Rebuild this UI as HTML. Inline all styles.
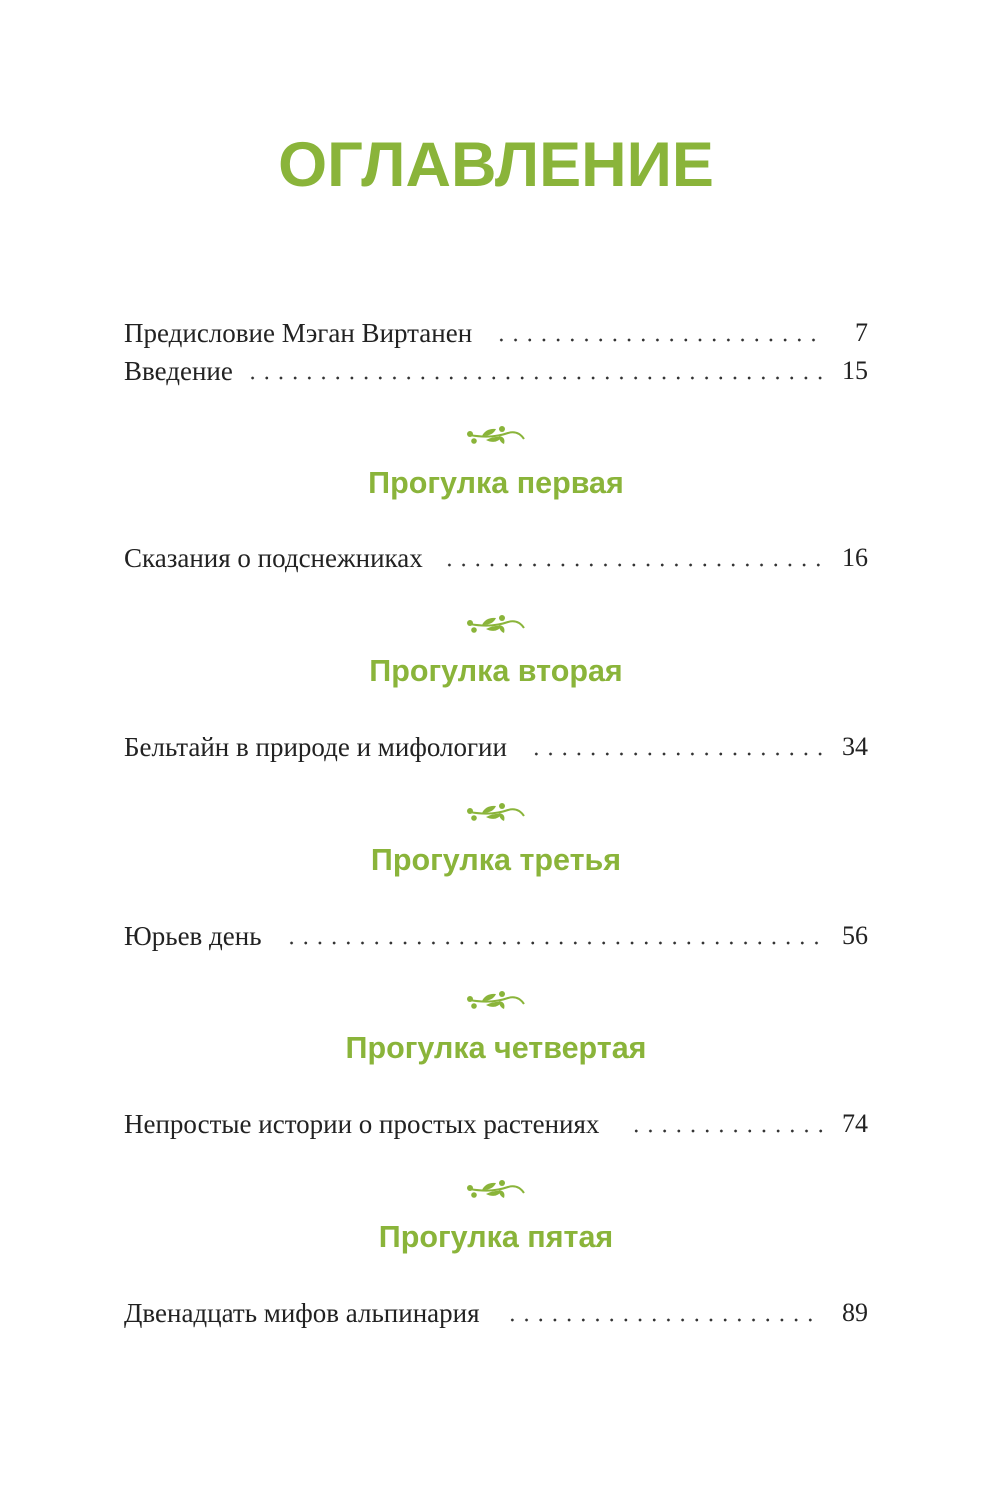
<!DOCTYPE html>
<html><head><meta charset="utf-8"><style>
body{margin:0;background:#fff;}
#p{position:relative;width:1000px;height:1500px;overflow:hidden;background:#fff;}
.t{position:absolute;left:-4px;width:1000px;text-align:center;top:125px;font:bold 63px "Liberation Sans","DejaVu Sans",sans-serif;color:#8ab43a;line-height:80px;}
.r{position:absolute;left:124px;font:27px "Liberation Serif","DejaVu Serif",serif;color:#222;line-height:30px;white-space:nowrap;}
.n{position:absolute;right:132px;font:26px "Liberation Serif",serif;color:#222;line-height:30px;}
.d{position:absolute;height:4px;background-image:radial-gradient(circle,#333 1.2px,transparent 1.6px);background-size:14.2px 4px;background-position:right 0;background-repeat:repeat-x;}
.h{position:absolute;left:-4px;width:1000px;text-align:center;font:bold 30.5px "Liberation Sans",sans-serif;color:#8ab43a;line-height:36px;}
.l{position:absolute;left:466px;}
</style></head><body><div id="p">
<div class="t">ОГЛАВЛЕНИЕ</div>

<div class="r" style="top:318px">Предисловие Мэган Виртанен</div><div class="d" style="top:338px;left:494px;width:326.6px"></div><div class="n" style="top:318px">7</div>
<div class="r" style="top:356px">Введение</div><div class="d" style="top:376px;left:245px;width:582.2px"></div><div class="n" style="top:356px">15</div>

<svg class="l" style="top:425px" width="60" height="24" viewBox="0 0 60 24"><g fill="#8ab43a"><path d="M4 10 Q25 14 42 8 Q52 5 58 14" stroke="#8ab43a" stroke-width="2" fill="none"/><circle cx="4" cy="9" r="3"/><circle cx="8" cy="16" r="2.8"/><circle cx="36" cy="4" r="3"/><path d="M16 11 Q20 3 30 4 Q27 11 16 11Z"/><path d="M20 15 Q28 11 36 12 Q30 20 20 15Z"/><path d="M33 11 Q40 12 38 19 Q33 17 33 11Z"/></g></svg>
<div class="h" style="top:465px">Прогулка первая</div>
<div class="r" style="top:543px">Сказания о подснежниках</div><div class="d" style="top:563px;left:442px;width:383.4px"></div><div class="n" style="top:543px">16</div>

<svg class="l" style="top:614px" width="60" height="24" viewBox="0 0 60 24"><g fill="#8ab43a"><path d="M4 10 Q25 14 42 8 Q52 5 58 14" stroke="#8ab43a" stroke-width="2" fill="none"/><circle cx="4" cy="9" r="3"/><circle cx="8" cy="16" r="2.8"/><circle cx="36" cy="4" r="3"/><path d="M16 11 Q20 3 30 4 Q27 11 16 11Z"/><path d="M20 15 Q28 11 36 12 Q30 20 20 15Z"/><path d="M33 11 Q40 12 38 19 Q33 17 33 11Z"/></g></svg>
<div class="h" style="top:653px">Прогулка вторая</div>
<div class="r" style="top:732px">Бельтайн в природе и мифологии</div><div class="d" style="top:752px;left:529px;width:298.2px"></div><div class="n" style="top:732px">34</div>

<svg class="l" style="top:802px" width="60" height="24" viewBox="0 0 60 24"><g fill="#8ab43a"><path d="M4 10 Q25 14 42 8 Q52 5 58 14" stroke="#8ab43a" stroke-width="2" fill="none"/><circle cx="4" cy="9" r="3"/><circle cx="8" cy="16" r="2.8"/><circle cx="36" cy="4" r="3"/><path d="M16 11 Q20 3 30 4 Q27 11 16 11Z"/><path d="M20 15 Q28 11 36 12 Q30 20 20 15Z"/><path d="M33 11 Q40 12 38 19 Q33 17 33 11Z"/></g></svg>
<div class="h" style="top:842px">Прогулка третья</div>
<div class="r" style="top:921px">Юрьев день</div><div class="d" style="top:941px;left:284px;width:539.6px"></div><div class="n" style="top:921px">56</div>

<svg class="l" style="top:990px" width="60" height="24" viewBox="0 0 60 24"><g fill="#8ab43a"><path d="M4 10 Q25 14 42 8 Q52 5 58 14" stroke="#8ab43a" stroke-width="2" fill="none"/><circle cx="4" cy="9" r="3"/><circle cx="8" cy="16" r="2.8"/><circle cx="36" cy="4" r="3"/><path d="M16 11 Q20 3 30 4 Q27 11 16 11Z"/><path d="M20 15 Q28 11 36 12 Q30 20 20 15Z"/><path d="M33 11 Q40 12 38 19 Q33 17 33 11Z"/></g></svg>
<div class="h" style="top:1030px">Прогулка четвертая</div>
<div class="r" style="top:1109px">Непростые истории о простых растениях</div><div class="d" style="top:1129px;left:629px;width:198.8px"></div><div class="n" style="top:1109px">74</div>

<svg class="l" style="top:1179px" width="60" height="24" viewBox="0 0 60 24"><g fill="#8ab43a"><path d="M4 10 Q25 14 42 8 Q52 5 58 14" stroke="#8ab43a" stroke-width="2" fill="none"/><circle cx="4" cy="9" r="3"/><circle cx="8" cy="16" r="2.8"/><circle cx="36" cy="4" r="3"/><path d="M16 11 Q20 3 30 4 Q27 11 16 11Z"/><path d="M20 15 Q28 11 36 12 Q30 20 20 15Z"/><path d="M33 11 Q40 12 38 19 Q33 17 33 11Z"/></g></svg>
<div class="h" style="top:1219px">Прогулка пятая</div>
<div class="r" style="top:1298px">Двенадцать мифов альпинария</div><div class="d" style="top:1318px;left:505px;width:312.4px"></div><div class="n" style="top:1298px">89</div>
</div></body></html>
